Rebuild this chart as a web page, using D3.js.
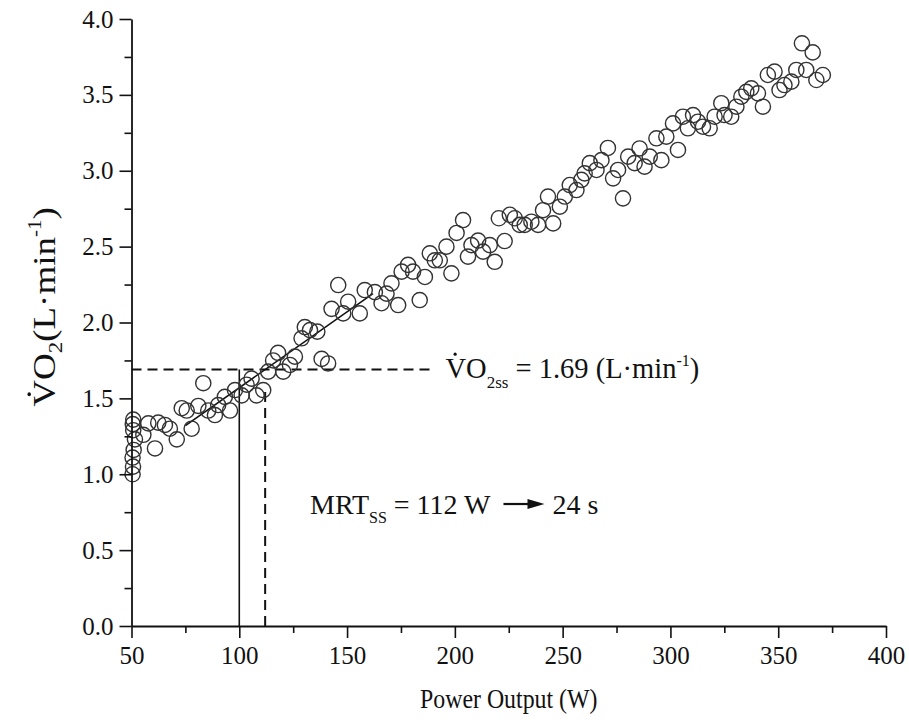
<!DOCTYPE html>
<html>
<head>
<meta charset="utf-8">
<script src="https://cdn.jsdelivr.net/npm/d3@7"></script>
<style>
  html, body { margin: 0; padding: 0; background: #fff; }
  svg { display: block; font-family: "Liberation Serif", "Times New Roman", serif; }
</style>
</head>
<body>
<svg id="chart" width="909" height="725"></svg>
<script>
// ---- data ----
const powerW = [50.5,50.7,50.5,51.0,51.6,50.8,50.6,50.8,55.5,57.8,60.9,62.4,65.5,67.8,71.0,73.3,75.6,77.9,81.0,83.3,85.6,88.7,90.2,93.3,95.7,98.0,101.1,103.4,105.7,108.0,111.1,113.4,115.7,118.0,120.4,123.5,125.8,128.9,130.4,132.8,136.2,138.2,141.2,142.8,145.9,148.2,150.5,155.9,158.2,162.9,166.0,168.3,170.6,173.7,175.3,178.3,180.6,183.7,186.1,188.4,190.7,193.0,196.1,198.4,200.8,203.8,206.1,207.7,210.8,213.1,216.2,218.5,220.4,223.1,225.5,227.8,230.1,232.4,235.5,238.6,240.9,243.2,245.6,248.7,251.0,253.3,256.4,258.7,260.2,262.6,265.7,268.0,271.0,273.4,275.7,278.0,280.4,283.4,285.7,288.0,290.4,293.5,295.8,298.1,301.2,303.5,305.8,308.1,310.5,312.8,315.1,318.2,320.5,323.6,325.1,328.2,330.6,332.9,335.2,337.5,340.6,342.9,345.2,348.3,350.6,352.9,356.1,358.4,361.0,363.0,366.0,367.7,370.7];
const vo2 = [1.00,1.05,1.11,1.16,1.23,1.29,1.33,1.36,1.26,1.335,1.17,1.34,1.325,1.30,1.23,1.435,1.42,1.30,1.45,1.60,1.42,1.39,1.456,1.51,1.42,1.555,1.52,1.59,1.63,1.52,1.555,1.676,1.75,1.80,1.676,1.72,1.775,1.896,1.97,1.95,1.94,1.76,1.73,2.09,2.247,2.06,2.137,2.06,2.214,2.20,2.127,2.19,2.258,2.115,2.335,2.38,2.335,2.148,2.30,2.456,2.41,2.41,2.50,2.324,2.59,2.675,2.434,2.51,2.54,2.467,2.51,2.40,2.687,2.537,2.71,2.687,2.643,2.643,2.664,2.643,2.74,2.83,2.653,2.763,2.83,2.906,2.873,2.94,2.983,3.05,3.005,3.07,3.15,2.95,3.005,2.818,3.093,3.05,3.147,3.027,3.093,3.214,3.07,3.225,3.312,3.137,3.356,3.28,3.367,3.323,3.29,3.28,3.356,3.445,3.367,3.356,3.422,3.488,3.52,3.543,3.51,3.422,3.631,3.653,3.532,3.565,3.587,3.664,3.84,3.664,3.78,3.598,3.631];

const xMajorTicks = [50,100,150,200,250,300,350,400];
const xMinorTicks = [75,125,175,225,275,325,375];
const yMajorTicks = [0,0.5,1.0,1.5,2.0,2.5,3.0,3.5,4.0];
const yMinorTicks = [0.25,0.75,1.25,1.75,2.25,2.75,3.25,3.75];

const fitLineW = [75, 162];
const fitLineV = [1.32, 2.19];
const vo2ss = 1.69;
const mrtW = 112;
const refW = 100;
const mrtDashTop = 1.57;
const hDashEndW = 191;

// ---- layout ----
const svg = d3.select("#chart");
const x = d3.scaleLinear().domain([50, 400]).range([131.5, 886]);
const y = d3.scaleLinear().domain([0, 4]).range([626, 19]);
const ink = "#111";

// reference lines
svg.append("line")
  .attr("x1", x(50)).attr("x2", x(hDashEndW))
  .attr("y1", y(vo2ss)).attr("y2", y(vo2ss))
  .attr("stroke", ink).attr("stroke-width", 2).attr("stroke-dasharray", "10,6");
svg.append("line")
  .attr("x1", x(refW)).attr("x2", x(refW))
  .attr("y1", y(0)).attr("y2", y(vo2ss))
  .attr("stroke", ink).attr("stroke-width", 1.6);
svg.append("line")
  .attr("x1", x(mrtW)).attr("x2", x(mrtW))
  .attr("y1", y(0)).attr("y2", y(mrtDashTop))
  .attr("stroke", ink).attr("stroke-width", 2).attr("stroke-dasharray", "10,6");

// fit line
svg.append("line")
  .attr("x1", x(fitLineW[0])).attr("x2", x(fitLineW[1]))
  .attr("y1", y(fitLineV[0])).attr("y2", y(fitLineV[1]))
  .attr("stroke", ink).attr("stroke-width", 1.6);

// points
svg.append("g").selectAll("circle")
  .data(d3.range(powerW.length))
  .join("circle")
  .attr("cx", i => x(powerW[i]))
  .attr("cy", i => y(vo2[i]))
  .attr("r", 7.6)
  .attr("fill", "none")
  .attr("stroke", "#333")
  .attr("stroke-width", 1.4);

// axes
const fontSize = 25;
svg.append("g").attr("transform", `translate(0,${y(0)})`)
  .call(d3.axisBottom(x).tickValues(xMajorTicks).tickSize(12).tickSizeOuter(0).tickPadding(8).tickFormat(d3.format("d")));
svg.append("g").attr("transform", `translate(0,${y(0)})`)
  .call(d3.axisBottom(x).tickValues(xMinorTicks).tickSize(7).tickFormat(""))
  .select(".domain").remove();
svg.append("g").attr("transform", `translate(${x(50)},0)`)
  .call(d3.axisLeft(y).tickValues(yMajorTicks).tickSize(12).tickSizeOuter(0).tickPadding(6).tickFormat(d3.format(".1f")));
svg.append("g").attr("transform", `translate(${x(50)},0)`)
  .call(d3.axisLeft(y).tickValues(yMinorTicks).tickSize(7).tickFormat(""))
  .select(".domain").remove();

svg.selectAll(".domain").attr("stroke", ink).attr("stroke-width", 1.8);
svg.selectAll(".tick line").attr("stroke", ink).attr("stroke-width", 1.6);
svg.selectAll(".tick text")
  .attr("font-family", "Liberation Serif, Times New Roman, serif")
  .attr("font-size", fontSize).attr("fill", ink);

// axis titles
const xtCx = (x(50) + x(400)) / 2;
svg.append("g").attr("transform", `translate(${xtCx},708) scale(0.9,1)`)
  .append("text")
  .attr("text-anchor", "middle").attr("font-size", 26.5).attr("fill", ink)
  .text("Power Output (W)");

// dotted-V helper: put a dot above the first character of a text element
function dotOverFirst(g, textSel, fs) {
  const node = textSel.node();
  const ext = node.getExtentOfChar(0);
  const base = node.getStartPositionOfChar(0);
  g.append("circle")
    .attr("cx", ext.x + ext.width * 0.47)
    .attr("cy", base.y - fs * 0.82)
    .attr("r", fs * 0.055)
    .attr("fill", ink);
}

// y axis title
const ytFs = 37;
const ytG = svg.append("g").attr("transform", `translate(55,307) rotate(-90) scale(1,0.85)`);
const yt = ytG.append("text")
  .attr("text-anchor", "middle").attr("font-size", ytFs).attr("fill", ink);
yt.append("tspan").text("VO");
yt.append("tspan").attr("font-size", 23).attr("dy", 8).text("2");
yt.append("tspan").attr("dy", -8).text("(L·min");
yt.append("tspan").attr("font-size", 21).attr("dy", -16).text("-1");
yt.append("tspan").attr("dy", 16).text(")");
dotOverFirst(ytG, yt, ytFs);

// annotation VO2ss
const a1Fs = 28.5;
const a1G = svg.append("g");
const a1 = a1G.append("text")
  .attr("x", x(hDashEndW) + 10).attr("y", y(vo2ss) + 8)
  .attr("font-size", a1Fs).attr("fill", ink);
a1.append("tspan").text("VO");
a1.append("tspan").attr("font-size", 17).attr("dy", 10).text("2ss");
a1.append("tspan").attr("dy", -10).text(" = 1.69 (L·min");
a1.append("tspan").attr("font-size", 16).attr("dy", -12).text("-1");
a1.append("tspan").attr("dy", 12).text(")");
dotOverFirst(a1G, a1, a1Fs);

// annotation MRT
const mrtTextW = 132.8, mrtTextV = 0.738;
const a2Fs = 28;
const a2 = svg.append("text")
  .attr("x", x(mrtTextW)).attr("y", y(mrtTextV))
  .attr("font-size", a2Fs).attr("fill", ink);
a2.append("tspan").text("MRT");
a2.append("tspan").attr("font-size", 16).attr("dy", 9).text("SS");
a2.append("tspan").attr("dy", -9).text(" = 112 W");
const a2End = x(mrtTextW) + a2.node().getComputedTextLength();
const ax0 = a2End + 13;
const ay = y(mrtTextV) - 10;
svg.append("line")
  .attr("x1", ax0).attr("x2", ax0 + 28).attr("y1", ay).attr("y2", ay)
  .attr("stroke", ink).attr("stroke-width", 2.2);
svg.append("path")
  .attr("d", `M${ax0 + 24},${ay - 5} L${ax0 + 41},${ay} L${ax0 + 24},${ay + 5} Z`)
  .attr("fill", ink);
svg.append("text")
  .attr("x", ax0 + 49).attr("y", y(mrtTextV))
  .attr("font-size", a2Fs).attr("fill", ink)
  .text("24 s");
</script>
</body>
</html>
